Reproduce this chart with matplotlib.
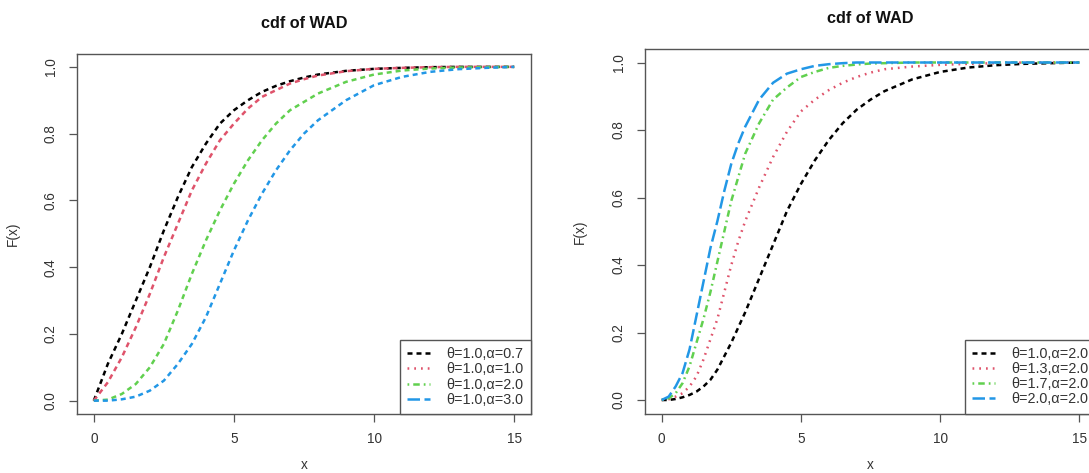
import matplotlib
matplotlib.use("Agg")
import matplotlib.pyplot as plt
from matplotlib.lines import Line2D

plt.rcParams['font.family'] = ['Liberation Sans', 'DejaVu Sans']

# ---------------- data ----------------
x_left = [0, 0.5, 1, 1.5, 2, 2.5, 3, 3.5, 4, 4.5, 5, 5.5, 6, 6.5, 7, 7.5, 8,
          9, 10, 11, 12, 13, 14, 15]

# left panel: theta = 1.0, alpha varies
left_labels = ["θ=1.0,α=0.7", "θ=1.0,α=1.0", "θ=1.0,α=2.0", "θ=1.0,α=3.0"]
left_a07 = [0, .11, .20, .30, .40, .51, .61, .70, .77, .83, .87, .90, .925, .943,
            .957, .968, .977, .988, .994, .997, .999, 1, 1, 1]
left_a10 = [0, .055, .13, .22, .32, .43, .53, .63, .71, .78, .83, .875, .91, .93,
            .95, .963, .974, .987, .994, .997, .999, 1, 1, 1]
left_a20 = [0, .003, .02, .05, .10, .17, .27, .38, .48, .57, .65, .72, .78, .83,
            .87, .895, .92, .955, .977, .989, .995, .998, .999, 1]
left_a30 = [0, 0, .004, .012, .03, .06, .11, .17, .25, .35, .45, .54, .62, .69,
            .75, .80, .84, .90, .945, .97, .985, .993, .997, 1]

# right panel: alpha = 2.0, theta varies
x_right = [0, 0.25, 0.5, 0.75, 1, 1.25, 1.5, 1.75, 2, 2.25, 2.5, 2.75, 3, 3.5, 4,
           4.5, 5, 5.5, 6, 6.5, 7, 7.5, 8, 9, 10, 11, 12, 13, 14, 15]
right_labels = ["θ=1.0,α=2.0", "θ=1.3,α=2.0", "θ=1.7,α=2.0", "θ=2.0,α=2.0"]
right_t10 = [0, 0, .003, .008, .015, .025, .04, .06, .09, .13, .17, .215, .26, .36,
             .46, .56, .64, .71, .77, .82, .86, .89, .915, .95, .972, .985, .992,
             .996, .998, 1]
right_t13 = [0, .002, .01, .02, .04, .07, .12, .18, .24, .32, .40, .47, .53, .63,
             .72, .795, .855, .89, .918, .94, .957, .97, .98, .988, .993, .996,
             .998, 1, 1, 1]
right_t17 = [0, .005, .02, .05, .10, .17, .24, .32, .41, .50, .59, .66, .73, .82,
             .89, .926, .957, .972, .984, .99, .994, .997, .998, 1, 1, 1, 1, 1, 1, 1]
right_t20 = [0, .01, .04, .08, .15, .25, .35, .45, .53, .62, .70, .76, .81, .89,
             .94, .967, .98, .99, .995, .998, 1, 1, 1, 1, 1, 1, 1, 1, 1, 1]

x_ticks = [0, 5, 10, 15]
y_ticks = [0.0, 0.2, 0.4, 0.6, 0.8, 1.0]
title = "cdf of WAD"

# ---------------- style ----------------
colors = ["#000000", "#DF536B", "#61D04F", "#2297E6"]
LW = 1.8
styles = [(0, (2.0, 1.6)), (0, (0.7, 2.0)), (0, (0.7, 1.6, 2.6, 1.6)), (0, (5.0, 1.8))]
TXT = "#333333"
EDGE = "#555555"
FS = 9.8

fig = plt.figure(figsize=(10.89, 4.73), dpi=100)
W, H = 1089.0, 473.0


def make_ax(left, right, top, bottom):
    return fig.add_axes([left / W, (H - bottom) / H, (right - left) / W, (bottom - top) / H])


def style_ax(ax, ylab_x, xlab_y):
    ax.set_xlim(-0.6, 15.6)
    ax.set_ylim(-0.04, 1.04)
    ax.set_xticks(x_ticks)
    ax.set_xticklabels([str(t) for t in x_ticks])
    ax.set_yticks(y_ticks)
    ax.set_yticklabels([f"{t:.1f}" for t in y_ticks], rotation=90, va='center')
    for s in ax.spines.values():
        s.set_color(EDGE)
        s.set_linewidth(1.0)
    ax.tick_params(axis='both', direction='out', length=6, width=0.9, color=EDGE,
                   labelcolor=TXT, labelsize=FS)
    ax.tick_params(axis='x', pad=7)
    ax.tick_params(axis='y', pad=8)
    ax.set_xlabel("x", color=TXT, fontsize=FS)
    ax.set_ylabel("F(x)", color=TXT, fontsize=FS)
    ax.yaxis.set_label_coords(ylab_x, 0.5)
    ax.xaxis.set_label_coords(0.5, xlab_y)
    ax.xaxis.label.set_va('center')
    ax.text(0.5, 1.083, title, transform=ax.transAxes, ha='center', va='center',
            fontsize=11.7, fontweight='bold', color="#111111")


def add_legend(ax, labels):
    handles = [Line2D([0], [0], color=c, lw=LW, linestyle=ls) for c, ls in zip(colors, styles)]
    leg = ax.legend(handles, labels, loc='lower right', borderaxespad=0, fancybox=False,
                    fontsize=10.4, handlelength=1.6, handletextpad=1.15, borderpad=0.5,
                    labelspacing=0.08, framealpha=1)
    leg.get_frame().set_edgecolor(EDGE)
    leg.get_frame().set_linewidth(1.0)
    for t in leg.get_texts():
        t.set_color(TXT)


# left panel
axL = make_ax(77, 531, 53.5, 414)
for ys, c in zip([left_a07, left_a10, left_a20, left_a30], colors):
    axL.plot(x_left, ys, color=c, lw=LW, linestyle=styles[0])
style_ax(axL, (20 - 77) / 454.0, (414 - 465) / 360.5)
add_legend(axL, left_labels)

# right panel (extends past the right edge of the image, as in the reference)
axR = make_ax(645, 1096, 49, 413.5)
for ys, c, ls in zip([right_t10, right_t13, right_t17, right_t20], colors, styles):
    axR.plot(x_right, ys, color=c, lw=LW, linestyle=ls)
style_ax(axR, (587 - 645) / 451.0, (413.5 - 465) / 364.5)
add_legend(axR, right_labels)

fig.savefig("out.png", dpi=100)
